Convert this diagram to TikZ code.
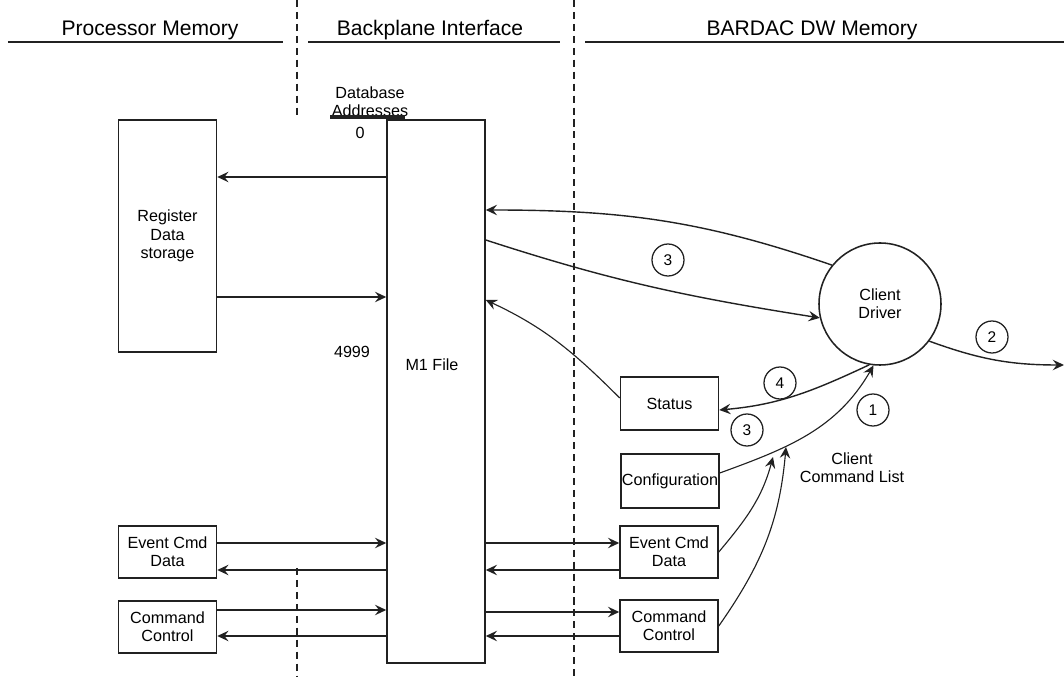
\documentclass[tikz,border=0pt]{standalone}
\usepackage{fontspec}
\setmainfont{Liberation Sans}
\usepackage{xcolor}
\usepackage{tikz}
\usetikzlibrary{arrows.meta, calc, positioning}
\definecolor{myline}{rgb}{0.13, 0.13, 0.13}
\tikzstyle{membox} = [rectangle, draw=myline, line width=1.1pt, minimum width=2.45cm, minimum height=1.3cm, inner sep=0pt, align=center, font=\fontsize{11.5}{13}\selectfont]
\tikzstyle{numcircle} = [circle, draw=myline, line width=0.9pt, minimum size=0.8cm, inner sep=0pt, font=\fontsize{11}{12}\selectfont]
\tikzstyle{header} = [font=\fontsize{15}{17}\selectfont]
\tikzstyle{smalltext} = [align=center, inner sep=1pt, font=\fontsize{11.5}{13}\selectfont]
\tikzstyle{flow} = [line width=1pt, draw=myline, -{Stealth[length=2.8mm,width=2.6mm,inset=1mm]}]
\tikzstyle{divider} = [line width=0.9pt, draw=myline, dash pattern=on 5pt off 3.5pt]

\begin{document}
\begin{tikzpicture}
\useasboundingbox (0,0) rectangle (26.6,-16.925);

% column headers
\node[header] (prochead) at (3.75,-0.75) {Processor Memory};
\node[header] (backhead) at (10.75,-0.75) {Backplane Interface};
\node[header] (bardachead) at (20.3,-0.75) {BARDAC DW Memory};
\draw[line width=1.1pt, myline] (0.2,-1.05) -- (7.075,-1.05);
\draw[line width=1.1pt, myline] (7.7,-1.05) -- (14.0,-1.05);
\draw[line width=1.1pt, myline] (14.625,-1.05) -- (26.6,-1.05);

% column borders
\draw[divider] (7.425,0) -- (7.425,-2.95);
\draw[divider] (7.425,-14.2) -- (7.425,-16.925);
\draw[divider] (14.35,0) -- (14.35,-16.925);

% processor side
\node[membox, minimum height=5.8cm] (regdata) at (4.1875,-5.9) {Register\\Data\\storage};
\node[membox] (evtleft) at (4.1875,-13.8) {Event Cmd\\Data};
\node[membox] (cmdleft) at (4.1875,-15.675) {Command\\Control};

% backplane
\node[membox, minimum height=13.575cm] (m1) at (10.9,-9.7875) {};
\node[smalltext] (m1text) at (10.8,-9.125) {M1 File};
\node[smalltext] (dbaddr) at (9.25,-2.5375) {Database\\Addresses};
\draw[line width=2.4pt, myline] (8.25,-2.925) -- (10.125,-2.925);
\node[smalltext] (addrzero) at (9.0,-3.325) {0};
\node[smalltext] (addrlast) at (8.8,-8.8) {4999};

% BARDAC side
\node[circle, draw=myline, line width=1.1pt, minimum size=3.05cm, align=center, font=\fontsize{11.5}{13}\selectfont] (client) at (22.0,-7.6) {Client\\Driver};
\node[membox, minimum height=1.325cm] (status) at (16.7375,-10.0875) {Status};
\node[membox, minimum height=1.35cm] (config) at (16.75,-12.025) {Configuration};
\node[membox] (evtright) at (16.725,-13.8) {Event Cmd\\Data};
\node[membox] (cmdright) at (16.725,-15.65) {Command\\Control};
\node[smalltext] (cmdlist) at (21.3,-11.7) {Client\\Command List};

\node[numcircle] (stepthreea) at (16.7,-6.5) {3};
\node[numcircle] (steptwo) at (24.8,-8.425) {2};
\node[numcircle] (stepfour) at (19.5,-9.575) {4};
\node[numcircle] (stepthreeb) at (18.675,-10.75) {3};
\node[numcircle] (stepone) at (21.825,-10.25) {1};

\coordinate (offright) at (26.6,-9.125);
\coordinate (cfgjoina) at (19.325,-11.425);
\coordinate (cfgjoinb) at (19.65,-11.175);

% register data transfers
\draw[flow] (m1.west |- 0,-4.425) -- (regdata.east |- 0,-4.425);
\draw[flow] (regdata.east |- 0,-7.425) -- (m1.west |- 0,-7.425);

% event / command transfers
\draw[flow] (evtleft.east |- 0,-13.575) -- (m1.west |- 0,-13.575);
\draw[flow] (m1.west |- 0,-14.25) -- (evtleft.east |- 0,-14.25);
\draw[flow] (cmdleft.east |- 0,-15.25) -- (m1.west |- 0,-15.25);
\draw[flow] (m1.west |- 0,-15.9) -- (cmdleft.east |- 0,-15.9);
\draw[flow] (m1.east |- 0,-13.575) -- (evtright.west |- 0,-13.575);
\draw[flow] (evtright.west |- 0,-14.25) -- (m1.east |- 0,-14.25);
\draw[flow] (m1.east |- 0,-15.3) -- (cmdright.west |- 0,-15.3);
\draw[flow] (cmdright.west |- 0,-15.9) -- (m1.east |- 0,-15.9);

% client driver paths
\draw[flow] (m1.east |- 0,-6.0) to[out=-18, in=171] (client.193);
\draw[flow] (client.141) to[out=161, in=0] (m1.east |- 0,-5.25);
\draw[flow] (client.-37) to[out=-20, in=180] (offright);
\draw[flow, line width=0.8pt] (status.west |- 0,-9.95) to[out=135, in=-25] (m1.east |- 0,-7.5);
\draw[flow] (client.260) to[out=205, in=5] (status.east |- 0,-10.25);
\draw[flow, line width=0.8pt] (config.east |- 0,-11.825) to[out=20, in=240] (client.264);
\draw[flow, line width=0.8pt] (evtright.east) to[out=50, in=255] (cfgjoina);
\draw[flow, line width=0.8pt] (cmdright.east) to[out=55, in=265] (cfgjoinb);
\end{tikzpicture}
\end{document}
